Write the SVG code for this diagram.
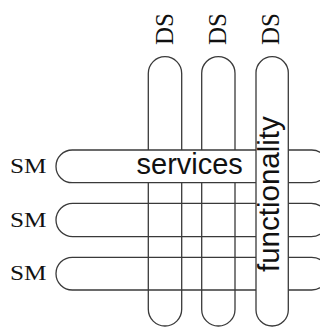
<svg xmlns="http://www.w3.org/2000/svg" width="320" height="327" viewBox="0 0 320 327">
<style>
.p{stroke:#3a3a3a;stroke-width:1.3;fill:none}
.w{fill:#ffffff}
.serif{font-family:"Liberation Serif","Times New Roman",serif;fill:#111}
.sans{font-family:"Liberation Sans",Arial,sans-serif;fill:#111}
</style>
<rect width="320" height="327" fill="#ffffff"/>
<g id="ds1"><rect class="p" x="148.3" y="56.7" width="33.4" height="269.3" rx="16.7"/><text class="serif" font-size="25" transform="translate(173,45) rotate(-90)" textLength="32" lengthAdjust="spacingAndGlyphs">DS</text></g>
<g id="ds2"><rect class="p" x="201.7" y="56.7" width="33.3" height="269.3" rx="16.6"/><text class="serif" font-size="25" transform="translate(226,45) rotate(-90)" textLength="32" lengthAdjust="spacingAndGlyphs">DS</text></g>
<g id="sm2"><rect class="p" x="56" y="203.3" width="272" height="33.4" rx="16.7"/><text class="serif" font-size="20" x="10" y="226.6" textLength="36.5" lengthAdjust="spacingAndGlyphs">SM</text></g>
<g id="sm3"><rect class="p" x="56" y="257.3" width="272" height="32.7" rx="16.3"/><text class="serif" font-size="20" x="10" y="280.3" textLength="36.5" lengthAdjust="spacingAndGlyphs">SM</text></g>
<g id="sm1"><rect class="p w" x="56" y="150" width="272" height="32.7" rx="16.3"/><text class="serif" font-size="20" x="10" y="173.3" textLength="36.5" lengthAdjust="spacingAndGlyphs">SM</text><text class="sans" font-size="29" x="136.5" y="173.5">services</text></g>
<g id="ds3"><rect class="p w" x="256" y="56.7" width="32.3" height="269.3" rx="16.1"/><text class="serif" font-size="25" transform="translate(279.3,45) rotate(-90)" textLength="32" lengthAdjust="spacingAndGlyphs">DS</text><text class="sans" font-size="29.5" transform="translate(279,272) rotate(-90)">functionality</text></g>
<g id="connectors"/>
</svg>
